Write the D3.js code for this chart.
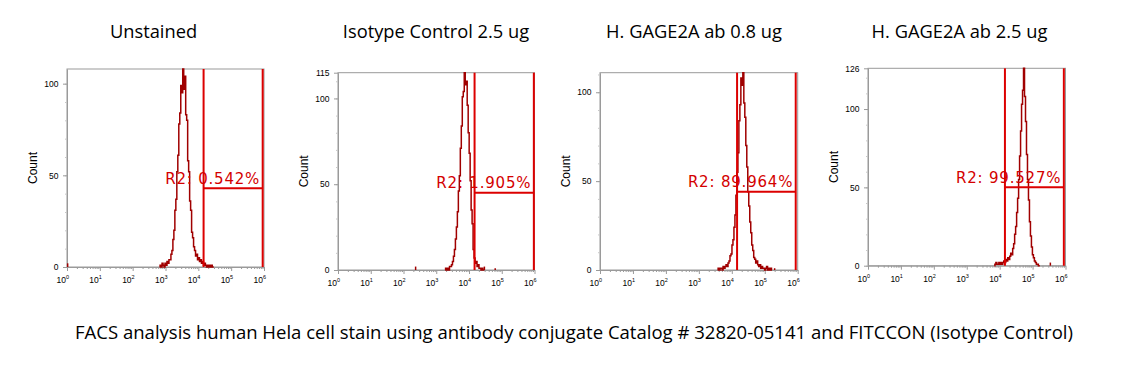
<!DOCTYPE html>
<html>
<head>
<meta charset="utf-8">
<script src="https://cdn.jsdelivr.net/npm/d3@7"></script>
<style>
  body { margin: 0; background: #fff; }
  svg { display: block; }
</style>
</head>
<body>
<svg id="chart" width="1139" height="366"></svg>
<script>
const titles = ["Unstained", "Isotype Control 2.5 ug", "H. GAGE2A ab 0.8 ug", "H. GAGE2A ab 2.5 ug"];
const caption = "FACS analysis human Hela cell stain using antibody conjugate Catalog # 32820-05141 and FITCCON (Isotype Control)";

const yMax = [108, 115, 111, 126];
const yTicks = [[0, 50, 100], [0, 50, 100, 115], [0, 50, 100], [0, 50, 100, 126]];
const decades = [0, 1, 2, 3, 4, 5, 6];

// gate R2 (log10 of channel)
const gateLow = [4.16, 4.17, 4.16, 4.16];
const gateHigh = [5.96, 5.98, 5.94, 5.95];
const gateLevel = [43, 45, 44, 50];
const gateLabels = ["R2: 0.542%", "R2: 1.905%", "R2: 89.964%", "R2: 99.527%"];

// histogram channels, log10 start + fixed width
const binStart = [2.85, 3.30, 3.60, 3.87];
const binStep = 0.03;
const countsUnstained = [1, 0, 2, 1, 0, 2, 1, 3, 2, 4, 4, 7, 9, 15, 20, 31, 37, 52, 61, 78, 84, 99, 95, 108, 97, 104, 83, 80, 58, 52, 36, 31, 19, 16, 11, 9, 6, 7, 4, 5, 3, 4, 2, 3, 1, 2, 1, 0, 1, 0, 1, 0, 1, 0];
const countsIsotype = [1, 0, 1, 0, 2, 2, 3, 5, 8, 12, 18, 25, 34, 46, 55, 71, 84, 101, 104, 115, 108, 110, 96, 80, 68, 52, 35, 27, 12, 7, 4, 5, 2, 3, 1, 1, 0, 1, 0];
const countsGage08 = [1, 0, 1, 1, 0, 2, 1, 2, 3, 2, 4, 5, 8, 9, 14, 17, 24, 31, 42, 55, 66, 84, 93, 108, 104, 111, 94, 86, 70, 58, 44, 36, 27, 21, 14, 11, 7, 6, 4, 5, 3, 2, 3, 1, 2, 1, 1, 0, 1, 2, 0, 1, 0, 1];
const countsGage25 = [1, 2, 1, 1, 2, 1, 2, 1, 2, 3, 2, 4, 3, 5, 4, 6, 8, 7, 11, 14, 20, 25, 34, 43, 55, 70, 86, 103, 112, 126, 108, 92, 71, 55, 42, 28, 19, 12, 7, 5, 3, 2, 1, 1, 0];
const counts = [countsUnstained, countsIsotype, countsGage08, countsGage25];

// isolated events [log10 channel, count]
const strays = [[[0.02, 2]], [[2.37, 2], [4.47, 2], [4.8, 1]], [[5.3, 1]], [[5.54, 2]]];

// page layout
const panels = [
  { left: 67, top: 69, w: 197, h: 198, titleX: 153.5 },
  { left: 338, top: 72.7, w: 196.5, h: 197.3, titleX: 436 },
  { left: 600, top: 72.7, w: 197.7, h: 197.3, titleX: 694 },
  { left: 868, top: 68.3, w: 197.5, h: 197.4, titleX: 959.5 },
];

const HIST = "#a00000";
const GATE = "#dc0000";
const AXIS = "#9a9a9a";

const svg = d3.select("#chart");
svg.append("rect").attr("width", 1139).attr("height", 366).attr("fill", "#fff");

panels.forEach((p, i) => {
  const g = svg.append("g").attr("transform", `translate(${p.left},${p.top})`);
  const x = d3.scaleLog().domain([1, 1e6]).range([0, p.w]);
  const y = d3.scaleLinear().domain([0, yMax[i]]).range([p.h, 0]);

  // title
  svg.append("text")
    .attr("x", p.titleX)
    .attr("y", 38)
    .attr("text-anchor", "middle")
    .style("font-family", "'Open Sans', sans-serif")
    .style("font-size", "18.3px")
    .text(titles[i]);

  // frame
  g.append("rect")
    .attr("width", p.w)
    .attr("height", p.h)
    .attr("fill", "none")
    .attr("stroke", AXIS)
    .attr("stroke-width", 1);

  // x minor ticks
  const minor = [];
  decades.slice(0, -1).forEach(d => {
    for (let m = 2; m <= 9; m++) minor.push(m * 10 ** d);
  });
  g.append("g")
    .attr("transform", `translate(0,${p.h})`)
    .call(d3.axisBottom(x).tickValues(minor).tickSize(2).tickSizeOuter(0).tickFormat(""))
    .call(a => a.select(".domain").remove())
    .call(a => a.selectAll("line").attr("stroke", AXIS));

  // x major ticks + labels
  const xa = g.append("g")
    .attr("transform", `translate(0,${p.h})`)
    .call(d3.axisBottom(x).tickValues(decades.map(d => 10 ** d)).tickSize(4).tickSizeOuter(0).tickPadding(6))
    .call(a => a.select(".domain").attr("stroke", AXIS))
    .call(a => a.selectAll("line").attr("stroke", AXIS));
  xa.selectAll(".tick text")
    .text(null)
    .attr("text-anchor", "end")
    .attr("x", 1.5)
    .attr("fill", "#000")
    .style("font-family", "'Liberation Sans', Arial, sans-serif")
    .style("font-size", "8.5px")
    .each(function (v) {
      const t = d3.select(this);
      t.append("tspan").text("10");
      t.append("tspan").attr("dy", "-4").style("font-size", "5.5px").text(Math.round(Math.log10(v)));
    });

  // y ticks
  const yMinor = d3.range(0, yMax[i] + 1, 10);
  g.append("g")
    .call(d3.axisLeft(y).tickValues(yMinor).tickSize(2).tickSizeOuter(0).tickFormat(""))
    .call(a => a.select(".domain").remove())
    .call(a => a.selectAll("line").attr("stroke", "#c8c8c8"));
  g.append("g")
    .call(d3.axisLeft(y).tickValues(yTicks[i]).tickSize(4).tickSizeOuter(0).tickPadding(4.5))
    .call(a => a.select(".domain").attr("stroke", AXIS))
    .call(a => a.selectAll("line").attr("stroke", AXIS))
    .call(a => a.selectAll("text")
      .attr("fill", "#000")
      .style("font-family", "'Liberation Sans', Arial, sans-serif")
      .style("font-size", "8.5px"));

  // y label
  g.append("text")
    .attr("transform", `translate(-34,${p.h / 2}) rotate(-90)`)
    .attr("text-anchor", "middle")
    .attr("dy", "0.35em")
    .style("font-family", "'Liberation Sans', Arial, sans-serif")
    .style("font-size", "12px")
    .text("Count");

  // histogram
  const pts = counts[i].map((c, k) => [binStart[i] + k * binStep, c]);
  pts.unshift([binStart[i] - binStep, 0]);
  pts.push([binStart[i] + counts[i].length * binStep, 0]);
  const line = d3.line()
    .curve(d3.curveStep)
    .x(d => x(10 ** d[0]))
    .y(d => y(d[1]));
  g.append("path")
    .attr("d", line(pts))
    .attr("fill", "none")
    .attr("stroke", HIST)
    .attr("stroke-width", 1.5);

  g.selectAll(".stray")
    .data(strays[i])
    .join("line")
    .attr("x1", d => x(10 ** d[0]))
    .attr("x2", d => x(10 ** d[0]))
    .attr("y1", y(0))
    .attr("y2", d => y(d[1]))
    .attr("stroke", HIST)
    .attr("stroke-width", 1.5);

  // gate
  const gx1 = x(10 ** gateLow[i]);
  const gx2 = x(10 ** gateHigh[i]);
  const gy = y(gateLevel[i]);
  [gx1, gx2].forEach(gx => {
    g.append("line")
      .attr("x1", gx).attr("x2", gx)
      .attr("y1", 0).attr("y2", p.h)
      .attr("stroke", GATE)
      .attr("stroke-width", 2);
  });
  g.append("line")
    .attr("x1", gx1).attr("x2", gx2)
    .attr("y1", gy).attr("y2", gy)
    .attr("stroke", GATE)
    .attr("stroke-width", 2);

  g.append("text")
    .attr("x", gx2 - 2.5)
    .attr("y", gy - 4.5)
    .attr("text-anchor", "end")
    .attr("fill", "#d40000")
    .style("font-family", "'DejaVu Sans', Verdana, sans-serif")
    .style("font-size", "15px")
    .style("letter-spacing", "0.8px")
    .text(gateLabels[i]);
});

svg.append("text")
  .attr("x", 574)
  .attr("y", 339)
  .attr("text-anchor", "middle")
  .attr("textLength", 998)
  .attr("lengthAdjust", "spacingAndGlyphs")
  .style("font-family", "'Open Sans', sans-serif")
  .style("font-size", "18.3px")
  .text(caption);
</script>
</body>
</html>
